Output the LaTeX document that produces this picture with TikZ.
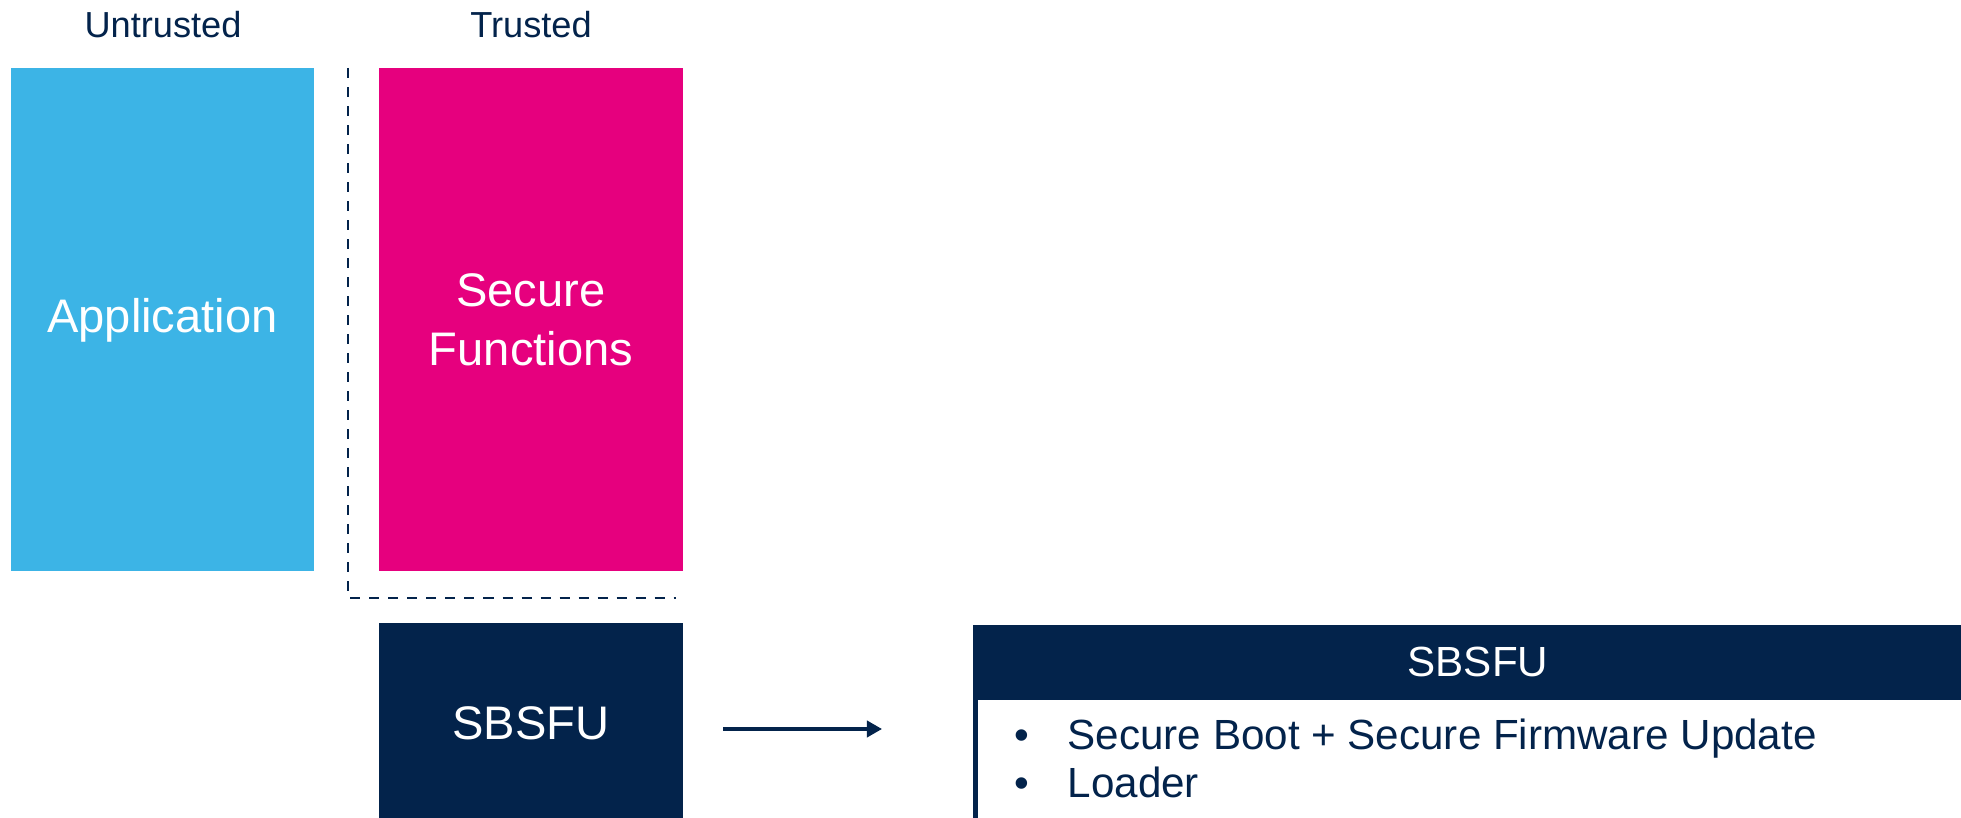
\documentclass[tikz,border=0pt]{standalone}
\usepackage{fontspec}
\setmainfont{Liberation Sans}
\usetikzlibrary{arrows.meta}
\definecolor{stblue}{HTML}{3CB4E6}
\definecolor{stpink}{HTML}{E6007E}
\definecolor{stnavy}{HTML}{03234B}

\begin{document}
\begin{tikzpicture}[
    blk/.style={rectangle, inner sep=0pt, outer sep=0pt, text=white, align=center, font=\fontsize{13.4}{16.8}\selectfont},
    capmid/.style={text height=0.72em, text depth=0pt},
    lbl/.style={capmid, text=stnavy, inner sep=0pt, font=\fontsize{10.3}{12}\selectfont},
    item/.style={capmid, text=stnavy, inner sep=0pt, font=\fontsize{12}{14}\selectfont},
    flow/.style={-{Triangle[length=4.3pt,width=4.6pt]}, line width=1pt, stnavy}
  ]
  \useasboundingbox (0,0) rectangle (19.61,-8.18);
  \clip (0,0) rectangle (19.61,-8.18);

  % Column headings
  \node[lbl] (untrusted) at (1.63,-0.25) {Untrusted};
  \node[lbl] (trusted) at (5.31,-0.25) {Trusted};

  % Memory blocks
  \node[blk, capmid, fill=stblue, minimum width=3.03cm, minimum height=5.03cm] (app) at (1.625,-3.195) {Application};
  \node[blk, fill=stpink, minimum width=3.04cm, minimum height=5.03cm] (secfn) at (5.31,-3.195) {Secure\\Functions};
  \node[blk, fill=stnavy, minimum width=3.04cm, minimum height=2.0cm] (sbsfu) at (5.31,-7.23) {SBSFU};

  % Trusted area border
  \draw[stnavy, line width=0.7pt, dash pattern=on 2.85pt off 2.56pt] (3.48,-0.68) -- (3.48,-5.98) -- (6.76,-5.98);

  % Zoom arrow
  \coordinate (arrA) at (7.23,-7.29);
  \coordinate (arrB) at (8.82,-7.29);
  \draw[flow] (arrA) -- (arrB);

  % SBSFU details
  \node[blk, fill=stnavy, minimum width=10.10cm, minimum height=0.73cm, anchor=north west, font=\fontsize{12}{14}\selectfont] (hdr) at (9.73,-6.25) {SBSFU};
  \node[draw=stnavy, line width=0.05cm, inner sep=0pt, outer sep=0pt, minimum width=10.05cm, minimum height=1.6cm, anchor=north west] (body) at ([xshift=0.025cm]hdr.south west) {};
  \node[item] (dot1) at (10.22,-7.37) {\textbullet};
  \node[item, anchor=west] (pt1) at (10.67,-7.37) {Secure Boot + Secure Firmware Update};
  \node[item] (dot2) at (10.22,-7.85) {\textbullet};
  \node[item, anchor=west] (pt2) at (10.67,-7.85) {Loader};
\end{tikzpicture}
\end{document}
